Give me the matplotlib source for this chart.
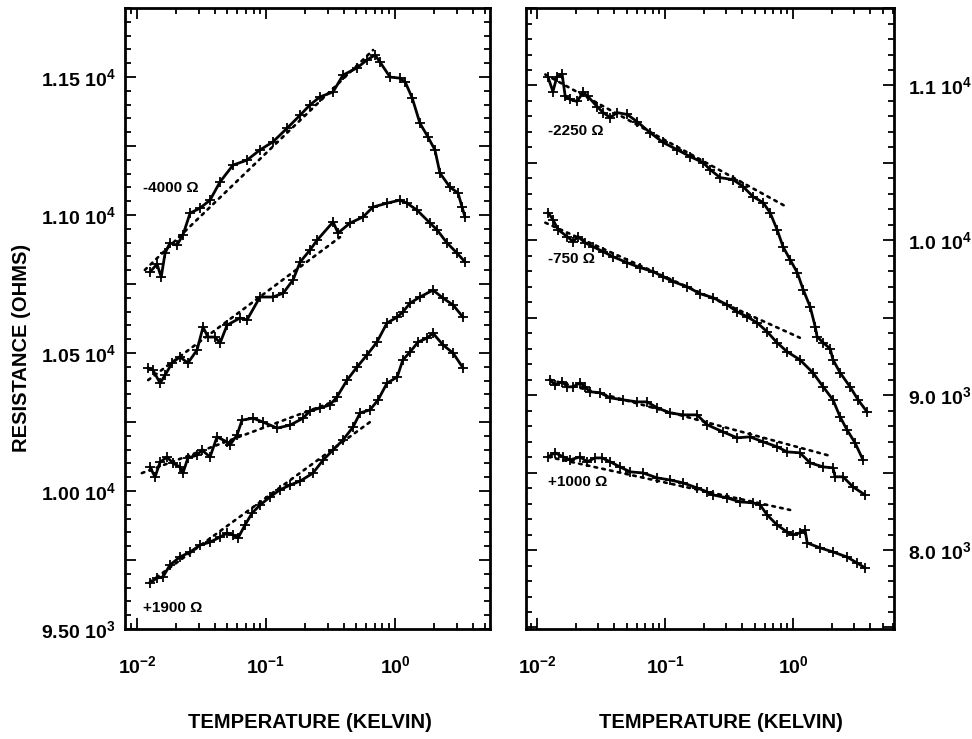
import matplotlib
matplotlib.use('Agg')
import matplotlib.pyplot as plt
from matplotlib.ticker import LogLocator, MultipleLocator, NullFormatter

plt.rcParams['font.family'] = ['Liberation Sans', 'DejaVu Sans']
plt.rcParams['font.weight'] = 'bold'
plt.rcParams['mathtext.fontset'] = 'custom'
plt.rcParams['mathtext.rm'] = 'Liberation Sans:bold'
plt.rcParams['mathtext.it'] = 'Liberation Sans:bold'
plt.rcParams['mathtext.bf'] = 'Liberation Sans:bold'
plt.rcParams['mathtext.default'] = 'rm'

# ---- left panel data (temperature K, resistance ohm) ----
t_m4000 = [0.0126, 0.0143, 0.0154, 0.0165, 0.0180, 0.0204, 0.0227, 0.0258, 0.0308, 0.0368,
           0.0440, 0.0555, 0.0712, 0.0898, 0.113, 0.146, 0.184, 0.219, 0.262, 0.331,
           0.395, 0.507, 0.607, 0.700, 0.766, 0.915, 1.09, 1.20, 1.36, 1.56,
           1.80, 2.04, 2.23, 2.67, 3.08, 3.31, 3.49]
r_m4000 = [10794, 10822, 10775, 10862, 10899, 10891, 10928, 11007, 11025, 11054,
           11120, 11181, 11199, 11236, 11265, 11315, 11362, 11399, 11428, 11446,
           11507, 11533, 11562, 11580, 11554, 11500, 11496, 11482, 11424, 11333,
           11283, 11236, 11152, 11101, 11080, 11029, 10993]

t_b = [0.0122, 0.0133, 0.0151, 0.0165, 0.0187, 0.0215, 0.0248, 0.0292, 0.0325, 0.0355,
       0.0402, 0.0440, 0.0499, 0.0629, 0.0712, 0.0898, 0.113, 0.136, 0.162, 0.184,
       0.219, 0.249, 0.331, 0.362, 0.448, 0.565, 0.675, 0.867, 1.09, 1.24,
       1.48, 1.87, 2.12, 2.53, 3.03, 3.49]
r_b = [10446, 10438, 10391, 10420, 10464, 10486, 10464, 10511, 10594, 10558,
       10558, 10536, 10601, 10627, 10620, 10703, 10703, 10717, 10765, 10830,
       10873, 10909, 10975, 10935, 10971, 10993, 11029, 11043, 11054, 11043,
       11018, 10971, 10946, 10899, 10862, 10830]

t_c = [0.0126, 0.0138, 0.0151, 0.0171, 0.0190, 0.0215, 0.0227, 0.0248, 0.0292, 0.0319,
       0.0368, 0.0417, 0.0499, 0.0526, 0.0596, 0.0652, 0.0793, 0.0948, 0.122, 0.154,
       0.194, 0.219, 0.262, 0.313, 0.355, 0.425, 0.507, 0.607, 0.725, 0.867,
       1.04, 1.15, 1.31, 1.56, 1.97, 2.36, 2.82, 3.37]
r_c = [10087, 10051, 10105, 10123, 10101, 10087, 10065, 10120, 10130, 10149,
       10123, 10196, 10178, 10167, 10203, 10257, 10264, 10250, 10228, 10239,
       10264, 10290, 10301, 10312, 10341, 10402, 10449, 10493, 10540, 10609,
       10630, 10649, 10681, 10703, 10728, 10699, 10674, 10630]

t_p1900 = [0.0126, 0.0143, 0.0159, 0.0180, 0.0215, 0.0258, 0.0308, 0.0368, 0.0440, 0.0499,
           0.0555, 0.0607, 0.0688, 0.0779, 0.0898, 0.107, 0.128, 0.154, 0.184, 0.231,
           0.277, 0.331, 0.395, 0.473, 0.536, 0.640, 0.739, 0.867, 1.04, 1.15,
           1.31, 1.51, 1.77, 1.97, 2.36, 2.82, 3.37]
r_p1900 = [9667, 9685, 9689, 9732, 9761, 9779, 9804, 9815, 9833, 9848,
           9841, 9830, 9877, 9920, 9949, 9978, 10004, 10022, 10036, 10065,
           10112, 10149, 10185, 10232, 10283, 10294, 10330, 10391, 10413, 10475,
           10504, 10540, 10554, 10572, 10529, 10500, 10446]

# straight-line fits (end points)
fit_left = [
    ([0.0115, 0.676], [10801, 11598]),
    ([0.0122, 0.375], [10402, 10920]),
    ([0.0109, 0.343], [10065, 10326]),
    ([0.0126, 0.640], [9670, 10250]),
]

# ---- right panel data ----
t_m2250 = [0.0122, 0.0133, 0.0143, 0.0157, 0.0166, 0.0181, 0.0205, 0.0229, 0.0250, 0.0294,
           0.0328, 0.0372, 0.0422, 0.0505, 0.0604, 0.0763, 0.0965, 0.124, 0.157, 0.198,
           0.225, 0.269, 0.340, 0.407, 0.487, 0.583, 0.661, 0.750, 0.835, 0.948,
           1.08, 1.20, 1.36, 1.49, 1.54, 1.72, 1.95, 2.05, 2.33, 2.79,
           3.22, 3.79]
r_m2250 = [11052, 10961, 11058, 11071, 10929, 10910, 10897, 10955, 10929, 10864,
           10825, 10793, 10825, 10813, 10767, 10696, 10632, 10586, 10541, 10502,
           10457, 10405, 10392, 10347, 10282, 10244, 10179, 10069, 9959, 9875,
           9791, 9681, 9571, 9441, 9378, 9339, 9300, 9229, 9145, 9054,
           8970, 8892]

t_m750 = [0.0122, 0.0133, 0.0146, 0.0172, 0.0191, 0.0209, 0.0237, 0.0274, 0.0328, 0.0393,
          0.0505, 0.0638, 0.0806, 0.0965, 0.116, 0.149, 0.188, 0.237, 0.305, 0.365,
          0.437, 0.523, 0.627, 0.750, 0.898, 1.13, 1.43, 1.72, 2.05, 2.33,
          2.64, 3.05, 3.52]
r_m750 = [10179, 10134, 10069, 10024, 9992, 10024, 9985, 9959, 9927, 9894,
          9856, 9824, 9798, 9765, 9733, 9700, 9655, 9630, 9584, 9539,
          9507, 9468, 9410, 9339, 9281, 9229, 9145, 9054, 8970, 8860,
          8776, 8692, 8582]

t_g = [0.0126, 0.0138, 0.0157, 0.0172, 0.0191, 0.0217, 0.0237, 0.0259, 0.0311, 0.0372,
       0.0470, 0.0604, 0.0723, 0.0866, 0.109, 0.138, 0.178, 0.213, 0.284, 0.365,
       0.461, 0.583, 0.750, 0.898, 1.13, 1.36, 1.72, 2.05, 2.13, 2.46,
       2.94, 3.65]
r_g = [9100, 9067, 9087, 9054, 9054, 9080, 9054, 9022, 9016, 8983,
       8970, 8957, 8957, 8919, 8886, 8873, 8873, 8809, 8763, 8725,
       8731, 8699, 8667, 8634, 8628, 8563, 8537, 8531, 8473, 8473,
       8408, 8356]

t_p1000 = [0.0122, 0.0138, 0.0160, 0.0181, 0.0217, 0.0246, 0.0284, 0.0322, 0.0372, 0.0445,
           0.0533, 0.0674, 0.0866, 0.109, 0.138, 0.178, 0.213, 0.237, 0.305, 0.386,
           0.487, 0.552, 0.627, 0.750, 0.898, 1.00, 1.13, 1.24, 1.29, 1.63,
           2.05, 2.64, 3.16, 3.65]
r_p1000 = [8602, 8628, 8602, 8582, 8602, 8570, 8595, 8595, 8570, 8537,
           8505, 8498, 8466, 8453, 8434, 8401, 8376, 8356, 8337, 8311,
           8305, 8292, 8227, 8162, 8117, 8098, 8111, 8130, 8046, 8014,
           7988, 7955, 7917, 7885]

fit_right = [
    ([0.0116, 0.914], [11071, 10211]),
    ([0.0116, 1.13], [10114, 9371]),
    ([0.0126, 1.95], [9100, 8608]),
    ([0.0122, 0.948], [8602, 8259]),
]

# curve labels: (text, T, R)
labels_left = [('-4000 \u03a9', 0.0111, 11098), ('+1900 \u03a9', 0.0111, 9576)]
labels_right = [('-2250 \u03a9', 0.0122, 10703), ('-750 \u03a9', 0.0122, 9880),
                ('+1000 \u03a9', 0.0122, 8440)]

# y tick labels
yticks_left = [9500, 9750, 10000, 10250, 10500, 10750, 11000, 11250, 11500]
ylabels_left = ['9.50 10$^{3}$', '', '1.00 10$^{4}$', '', '1.05 10$^{4}$', '',
                '1.10 10$^{4}$', '', '1.15 10$^{4}$']
yticks_right = [7500, 8000, 8500, 9000, 9500, 10000, 10500, 11000, 11500]
ylabels_right = ['', '8.0 10$^{3}$', '', '9.0 10$^{3}$', '', '1.0 10$^{4}$', '',
                 '1.1 10$^{4}$', '']


def draw_trace(ax, t, r):
    ax.plot(t, r, color='black', lw=2.0, marker='+', ms=7, mew=1.3)


def draw_fit(ax, t, r):
    ax.plot(t, r, color='black', lw=1.9, ls=(0, (1, 2)), dash_capstyle='round')


def style_axis(ax, xlim, ylim, yticks, ylabels, minor_step, right_labels):
    ax.set_xscale('log')
    ax.set_xlim(*xlim)
    ax.set_ylim(*ylim)
    ax.xaxis.set_major_locator(LogLocator(base=10, numticks=10))
    ax.xaxis.set_minor_locator(LogLocator(base=10, subs=range(2, 10), numticks=20))
    ax.xaxis.set_minor_formatter(NullFormatter())
    ax.set_yticks(yticks, ylabels)
    ax.yaxis.set_minor_locator(MultipleLocator(minor_step))
    ax.tick_params(which='both', direction='in', top=True, right=True,
                   width=1.3, labelsize=14)
    ax.tick_params(which='major', length=8)
    ax.tick_params(which='minor', length=4)
    ax.tick_params(axis='x', pad=19)
    if right_labels:
        ax.tick_params(axis='y', labelleft=False, labelright=True, pad=10)
    else:
        ax.tick_params(axis='y', pad=7)
    for s in ax.spines.values():
        s.set_linewidth(2)


fig = plt.figure(figsize=(9.72, 7.39), dpi=100)
axL = fig.add_axes([0.1286, 0.1488, 0.3755, 0.8403])
axR = fig.add_axes([0.5412, 0.1488, 0.3786, 0.8403])

for t, r in [(t_m4000, r_m4000), (t_b, r_b), (t_c, r_c), (t_p1900, r_p1900)]:
    draw_trace(axL, t, r)
for t, r in fit_left:
    draw_fit(axL, t, r)
for t, r in [(t_m2250, r_m2250), (t_m750, r_m750), (t_g, r_g), (t_p1000, r_p1000)]:
    draw_trace(axR, t, r)
for t, r in fit_right:
    draw_fit(axR, t, r)

for txt, t, r in labels_left:
    axL.text(t, r, txt, fontsize=11, ha='left', va='center')
for txt, t, r in labels_right:
    axR.text(t, r, txt, fontsize=11, ha='left', va='center')

style_axis(axL, (0.00807, 5.45), (9500, 11750), yticks_left, ylabels_left, 50, False)
style_axis(axR, (0.0082, 6.15), (7490, 11500), yticks_right, ylabels_right, 100, True)

fig.text(310 / 972, 1 - 723 / 739, 'TEMPERATURE (KELVIN)', fontsize=14.5,
         ha='center', va='center')
fig.text(721 / 972, 1 - 723 / 739, 'TEMPERATURE (KELVIN)', fontsize=14.5,
         ha='center', va='center')
fig.text(22 / 972, 1 - 348 / 739, 'RESISTANCE (OHMS)', fontsize=14.5,
         rotation=90, ha='center', va='center')

fig.savefig('out.png', dpi=100)
